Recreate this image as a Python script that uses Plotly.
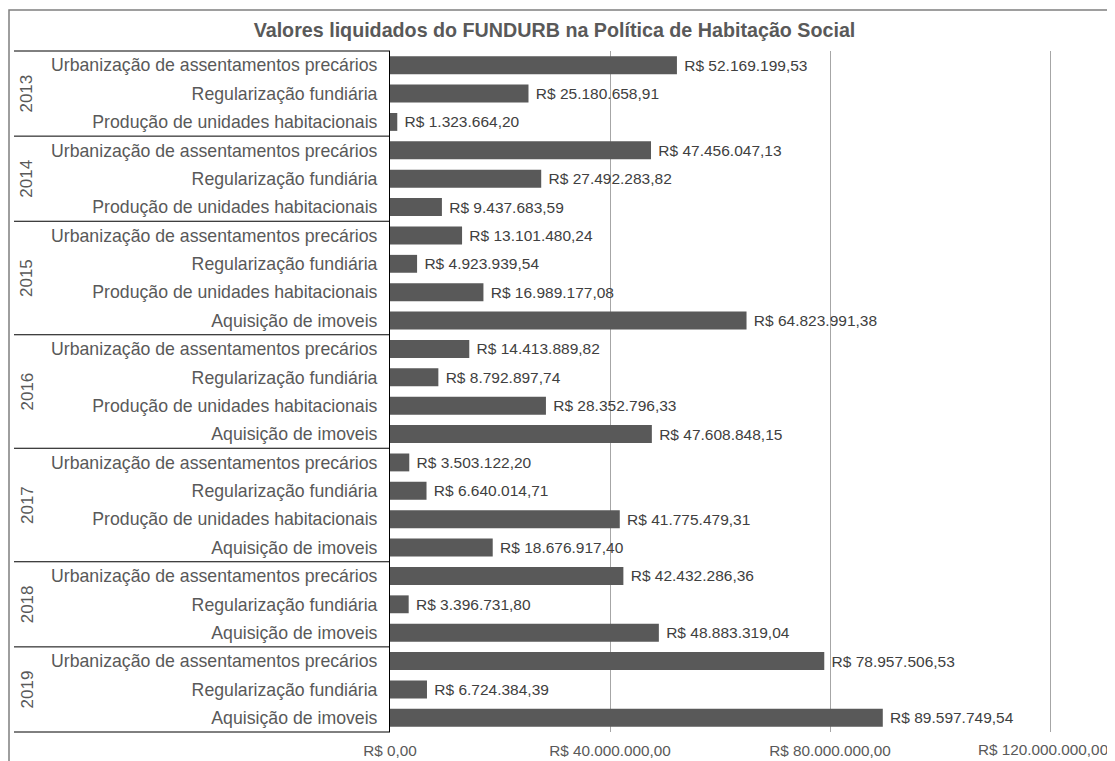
import plotly.graph_objects as go

# ── data ──────────────────────────────────────────────────────────────────────
URB = "Urbanização de assentamentos precários"
REG = "Regularização fundiária"
PROD = "Produção de unidades habitacionais"
AQ = "Aquisição de imoveis"

years = ["2013", "2014", "2015", "2016", "2017", "2018", "2019"]
groups = [
    [URB, REG, PROD],
    [URB, REG, PROD],
    [URB, REG, PROD, AQ],
    [URB, REG, PROD, AQ],
    [URB, REG, PROD, AQ],
    [URB, REG, AQ],
    [URB, REG, AQ],
]
values = [
    [52169199.53, 25180658.91, 1323664.20],
    [47456047.13, 27492283.82, 9437683.59],
    [13101480.24, 4923939.54, 16989177.08, 64823991.38],
    [14413889.82, 8792897.74, 28352796.33, 47608848.15],
    [3503122.20, 6640014.71, 41775479.31, 18676917.40],
    [42432286.36, 3396731.80, 48883319.04],
    [78957506.53, 6724384.39, 89597749.54],
]
x_ticks = [0, 40000000, 80000000, 120000000]

TITLE = "Valores liquidados do FUNDURB na Política de Habitação Social"

# ── layout constants (pixel targets are page coords; page body has 8px margin) ─
OFF = 8
W, H = 1115 - OFF, 761 - OFF
M_L, M_R, M_T, M_B = 390 - OFF, 55, 51 - OFF, 29
PW, PH = W - M_L - M_R, H - M_T - M_B
PX_PER_40M = 220          # 40M spans 220 px in the reference
X_MAX = 40000000 * PW / PX_PER_40M
FONT = "Liberation Sans, Arial, sans-serif"
GREY = "#595959"
TICK_SIZE = 15.3


def px_x(px):
    return (px - OFF - M_L) / PW


def px_y(py):
    return (H - M_B - (py - OFF)) / PH


def brl(v):
    s = f"{v:,.2f}".replace(",", "_").replace(".", ",").replace("_", ".")
    return "R$ " + s


row_ids, row_labels, row_vals = [], [], []
for yr, cats, vals in zip(years, groups, values):
    for c, v in zip(cats, vals):
        row_ids.append(f"{yr}|{c}")
        row_labels.append(c)
        row_vals.append(v)
n_rows = len(row_ids)

fig = go.Figure(
    go.Bar(
        x=row_vals, y=row_ids, orientation="h",
        marker=dict(color=GREY, line_width=0),
        texttemplate="\u00a0R$ %{x:,.2f}", textposition="outside",
        textfont=dict(family=FONT, size=15.5, color="#404040"),
        cliponaxis=False,
    )
)

shapes, annotations = [], []
# year separators and year labels
start = 0
for yr, cats in zip(years, groups):
    yf = 1 - start / n_rows
    shapes.append(dict(type="line", xref="paper", yref="paper",
                       x0=px_x(14), x1=0, y0=yf, y1=yf,
                       line=dict(color="#000000", width=1)))
    annotations.append(dict(text=yr, xref="paper", yref="paper",
                            x=px_x(27), y=1 - (start + len(cats) / 2) / n_rows,
                            xanchor="center", yanchor="middle",
                            textangle=-90, showarrow=False,
                            font=dict(family=FONT, size=17, color=GREY)))
    start += len(cats)
shapes.append(dict(type="line", xref="paper", yref="paper",
                   x0=px_x(14), x1=0, y0=0, y1=0,
                   line=dict(color="#000000", width=1)))
# outer chart border
shapes.append(dict(type="rect", xref="paper", yref="paper",
                   x0=px_x(9), x1=px_x(1300), y0=px_y(900), y1=px_y(10),
                   line=dict(color="#7f7f7f", width=1.5)))

# last tick label nudged left so it stays inside the page (as in the source)
tick_text = [brl(v) for v in x_ticks]
annotations.append(dict(text=tick_text[-1], xref="x", yref="paper",
                        x=x_ticks[-1], y=px_y(749), xanchor="right",
                        yanchor="middle", xshift=(1110 - 1050), showarrow=False,
                        font=dict(family=FONT, size=TICK_SIZE, color=GREY)))
tick_text[-1] = ""

fig.update_layout(
    width=W, height=H,
    margin=dict(l=M_L, r=M_R, t=M_T, b=M_B),
    paper_bgcolor="white", plot_bgcolor="white",
    separators=",.",
    bargap=0.37,
    showlegend=False,
    font=dict(family=FONT, color=GREY),
    title=dict(text=f"<b>{TITLE}</b>", x=(554.5 - OFF) / W, xanchor="center",
               y=1 - (30 - OFF) / H, yanchor="middle",
               font=dict(family=FONT, size=19.7, color=GREY)),
    shapes=shapes,
    annotations=annotations,
)
fig.update_xaxes(
    range=[0, X_MAX], tickvals=x_ticks, ticktext=tick_text,
    showgrid=True, gridcolor="#a6a6a6", gridwidth=1,
    zeroline=False, showline=False, automargin=False,
    ticks="", ticklabelstandoff=8, ticklabeloverflow="allow",
    tickfont=dict(family=FONT, size=TICK_SIZE, color=GREY),
)
fig.update_yaxes(
    type="category", autorange="reversed",
    tickvals=row_ids, ticktext=row_labels,
    showline=True, linecolor="#000000", linewidth=1,
    showgrid=False, automargin=False,
    ticks="", ticklabelstandoff=8,
    tickfont=dict(family=FONT, size=17.7, color=GREY),
)

fig.write_html("out.html")
